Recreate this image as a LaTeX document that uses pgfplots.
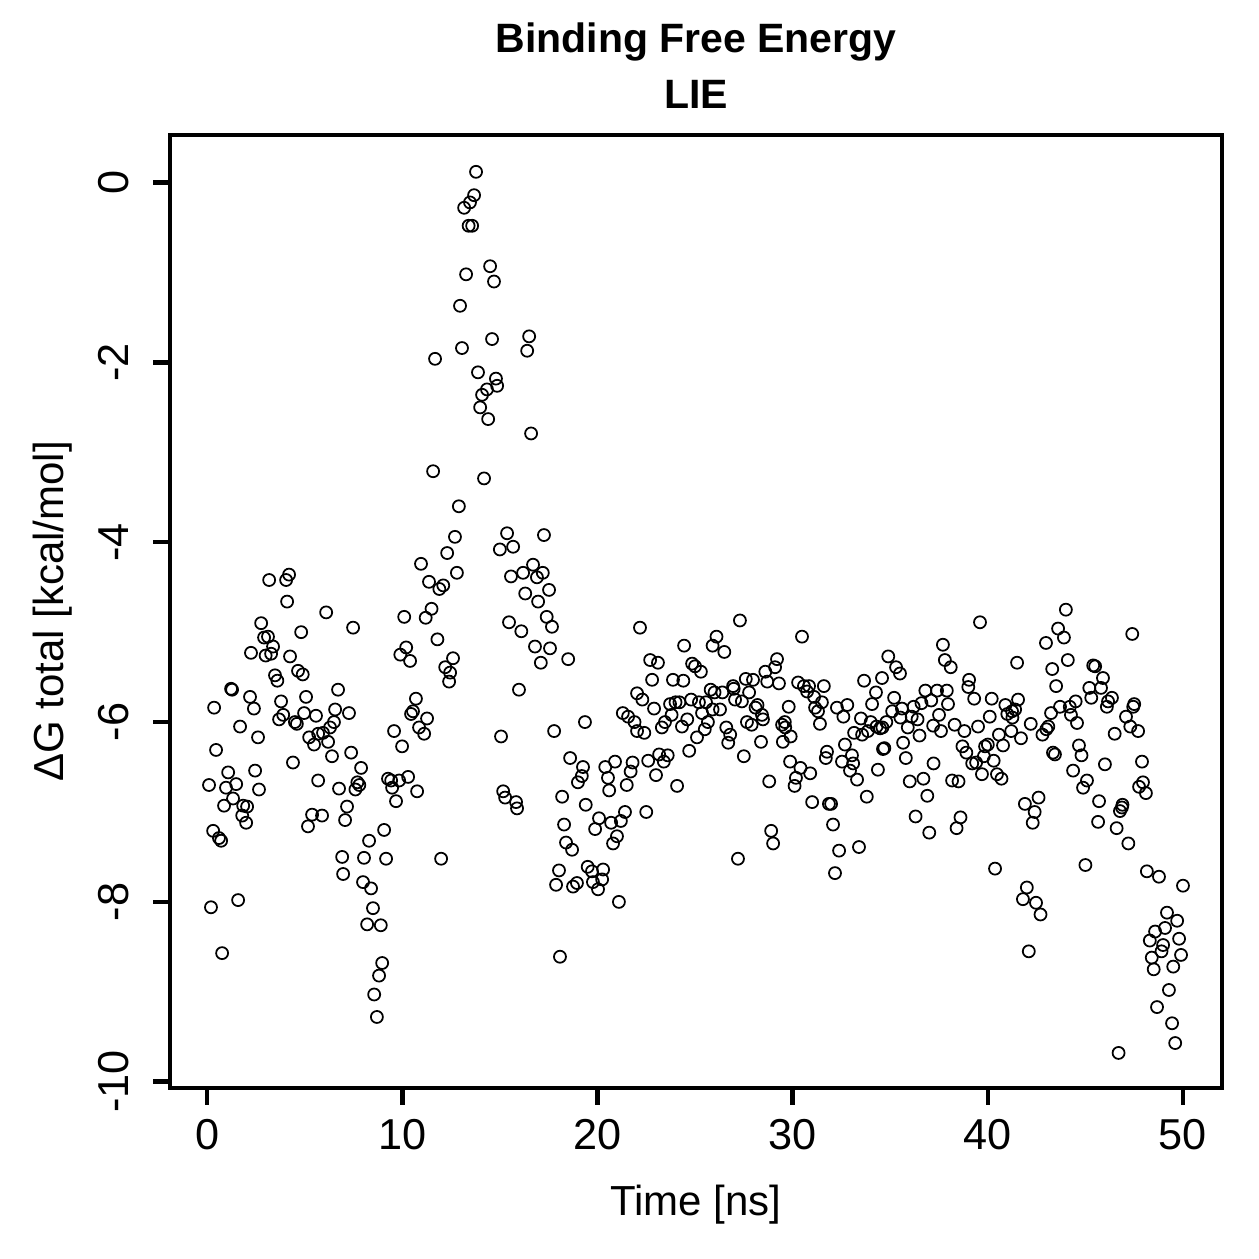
\documentclass[border=0pt]{standalone}
\usepackage{fontspec}
\setmainfont{Liberation Sans}
\usepackage{pgfplots}
\usepackage{pgfplotstable}
\pgfplotsset{compat=1.18}
\pgfplotstableread{
x y
0.10 -6.70
0.20 -8.06
0.31 -7.21
0.36 -5.84
0.46 -6.31
0.61 -7.29
0.72 -7.32
0.77 -8.57
0.87 -6.93
0.97 -6.73
1.08 -6.56
1.23 -5.63
1.28 -5.64
1.33 -6.85
1.49 -6.69
1.59 -7.98
1.69 -6.05
1.80 -7.04
1.85 -6.93
2.00 -7.12
2.05 -6.94
2.20 -5.72
2.25 -5.23
2.40 -5.85
2.46 -6.54
2.61 -6.17
2.66 -6.75
2.77 -4.90
2.92 -5.06
3.00 -5.26
3.12 -5.05
3.18 -4.42
3.28 -5.24
3.38 -5.16
3.48 -5.48
3.60 -5.54
3.69 -5.97
3.79 -5.77
3.90 -5.92
4.05 -4.42
4.10 -4.66
4.20 -4.36
4.25 -5.27
4.40 -6.45
4.50 -6.00
4.60 -6.02
4.66 -5.43
4.82 -5.00
4.90 -5.47
4.97 -5.90
5.07 -5.72
5.17 -7.16
5.23 -6.17
5.38 -7.03
5.48 -6.25
5.58 -5.93
5.69 -6.13
5.69 -6.65
5.89 -7.04
5.94 -6.12
6.10 -4.78
6.20 -6.22
6.30 -6.06
6.40 -6.38
6.50 -6.00
6.56 -5.86
6.71 -5.64
6.76 -6.74
6.92 -7.50
6.97 -7.69
7.07 -7.09
7.17 -6.94
7.27 -5.90
7.38 -6.34
7.48 -4.95
7.60 -6.75
7.70 -6.67
7.80 -6.70
7.89 -6.51
7.99 -7.78
8.04 -7.51
8.20 -8.25
8.30 -7.32
8.40 -7.85
8.50 -8.07
8.56 -9.03
8.70 -9.28
8.81 -8.82
8.90 -8.26
8.97 -8.68
9.07 -7.20
9.17 -7.52
9.27 -6.63
9.43 -6.65
9.48 -6.73
9.58 -6.10
9.68 -6.88
9.84 -6.65
9.90 -5.25
9.99 -6.27
10.10 -4.83
10.20 -5.17
10.30 -6.61
10.40 -5.32
10.45 -5.91
10.55 -5.88
10.70 -5.74
10.76 -6.77
10.86 -6.06
10.96 -4.24
11.12 -6.13
11.20 -4.84
11.27 -5.96
11.37 -4.44
11.50 -4.74
11.58 -3.21
11.68 -1.96
11.80 -5.08
11.90 -4.52
11.99 -7.52
12.10 -4.48
12.20 -5.39
12.30 -4.12
12.40 -5.55
12.45 -5.45
12.60 -5.29
12.70 -3.94
12.80 -4.34
12.90 -3.60
12.96 -1.37
13.06 -1.84
13.17 -0.28
13.27 -1.02
13.40 -0.48
13.47 -0.22
13.58 -0.48
13.68 -0.14
13.78 0.12
13.88 -2.11
13.99 -2.50
14.09 -2.36
14.19 -3.29
14.34 -2.30
14.40 -2.63
14.50 -0.93
14.60 -1.74
14.70 -1.10
14.80 -2.18
14.86 -2.26
15.00 -4.08
15.06 -6.16
15.17 -6.77
15.27 -6.84
15.37 -3.90
15.47 -4.89
15.57 -4.38
15.68 -4.05
15.83 -6.89
15.88 -6.96
15.98 -5.64
16.10 -4.99
16.19 -4.34
16.30 -4.57
16.40 -1.87
16.50 -1.71
16.60 -2.79
16.70 -4.25
16.80 -5.16
16.90 -4.39
16.96 -4.66
17.10 -5.34
17.20 -4.34
17.26 -3.92
17.40 -4.83
17.52 -4.53
17.57 -5.18
17.67 -4.94
17.78 -6.10
17.88 -7.81
18.03 -7.65
18.08 -8.61
18.19 -6.83
18.29 -7.14
18.39 -7.34
18.50 -5.30
18.60 -6.40
18.70 -7.42
18.75 -7.83
18.95 -7.79
19.00 -6.67
19.20 -6.60
19.26 -6.50
19.36 -6.00
19.40 -6.92
19.50 -7.61
19.72 -7.66
19.77 -7.78
19.88 -7.19
20.03 -7.86
20.08 -7.07
20.24 -7.75
20.29 -7.64
20.40 -6.50
20.54 -6.62
20.60 -6.76
20.70 -7.12
20.80 -7.35
20.90 -6.44
21.00 -7.27
21.10 -8.00
21.20 -7.10
21.30 -5.90
21.41 -7.00
21.50 -6.70
21.57 -5.94
21.70 -6.55
21.80 -6.45
21.90 -6.00
22.03 -5.68
22.03 -6.10
22.18 -4.95
22.30 -5.75
22.40 -6.12
22.50 -7.00
22.60 -6.43
22.70 -5.31
22.80 -5.53
22.90 -5.85
23.00 -6.59
23.10 -5.34
23.16 -6.36
23.30 -6.06
23.40 -6.44
23.46 -6.00
23.60 -6.37
23.72 -5.80
23.80 -5.92
23.87 -5.53
24.00 -5.78
24.08 -6.71
24.20 -5.78
24.33 -6.05
24.40 -5.54
24.44 -5.15
24.60 -5.97
24.70 -6.32
24.80 -5.75
24.85 -5.35
25.00 -5.38
25.10 -6.17
25.20 -5.78
25.30 -5.44
25.36 -5.90
25.50 -6.08
25.56 -5.78
25.66 -6.00
25.80 -5.64
25.90 -5.86
25.90 -5.15
26.00 -5.67
26.10 -5.05
26.28 -5.86
26.40 -5.67
26.50 -5.22
26.60 -6.06
26.70 -6.23
26.80 -6.14
26.95 -5.60
26.98 -5.63
27.05 -5.75
27.20 -7.52
27.30 -4.87
27.40 -5.77
27.50 -6.38
27.60 -5.52
27.66 -6.00
27.77 -5.67
27.90 -6.03
27.97 -5.53
28.10 -5.84
28.20 -5.81
28.38 -6.22
28.43 -5.92
28.48 -5.97
28.60 -5.44
28.70 -5.55
28.80 -6.66
28.90 -7.21
29.00 -7.35
29.10 -5.39
29.20 -5.30
29.30 -5.57
29.46 -6.03
29.50 -6.22
29.60 -6.00
29.62 -6.06
29.80 -5.83
29.87 -6.44
29.90 -6.16
30.10 -6.71
30.17 -6.62
30.28 -5.56
30.40 -6.51
30.48 -5.05
30.58 -5.60
30.74 -5.66
30.84 -5.60
30.90 -6.57
31.00 -6.89
31.10 -5.72
31.15 -5.84
31.30 -5.88
31.40 -6.02
31.50 -5.78
31.60 -5.60
31.70 -6.40
31.76 -6.33
31.86 -6.91
31.97 -6.91
32.07 -7.14
32.17 -7.68
32.27 -5.84
32.38 -7.43
32.53 -6.44
32.60 -5.94
32.68 -6.25
32.80 -5.81
32.94 -6.54
33.04 -6.37
33.10 -6.46
33.15 -6.12
33.30 -6.64
33.40 -7.39
33.50 -5.96
33.56 -6.14
33.66 -5.54
33.80 -6.83
33.86 -6.10
34.00 -6.00
34.07 -5.80
34.27 -5.67
34.30 -6.05
34.37 -6.53
34.48 -6.07
34.58 -5.51
34.60 -6.06
34.63 -6.30
34.70 -6.29
34.80 -6.00
34.90 -5.27
35.10 -5.88
35.20 -5.73
35.30 -5.39
35.50 -5.46
35.52 -5.95
35.60 -5.85
35.66 -6.23
35.80 -6.40
35.90 -6.06
36.00 -6.66
36.10 -5.94
36.20 -5.83
36.30 -7.05
36.40 -5.97
36.50 -6.15
36.60 -5.79
36.70 -6.63
36.80 -5.65
36.90 -6.82
37.00 -7.23
37.10 -5.76
37.20 -6.04
37.22 -6.46
37.40 -5.65
37.50 -5.92
37.60 -6.10
37.70 -5.14
37.80 -5.31
37.90 -5.65
37.96 -5.80
38.10 -5.39
38.17 -6.65
38.30 -6.03
38.40 -7.18
38.50 -6.66
38.60 -7.06
38.70 -6.27
38.80 -6.10
38.90 -6.34
39.00 -5.61
39.04 -5.53
39.20 -6.46
39.30 -5.74
39.40 -6.45
39.50 -6.05
39.60 -4.89
39.70 -6.58
39.80 -6.38
39.86 -6.27
40.00 -6.25
40.10 -5.94
40.20 -5.74
40.30 -6.43
40.37 -7.63
40.47 -6.58
40.57 -6.14
40.70 -6.63
40.78 -6.26
40.90 -5.81
41.00 -5.91
41.20 -6.10
41.24 -5.88
41.26 -5.95
41.40 -5.86
41.50 -5.34
41.55 -5.75
41.70 -6.18
41.80 -7.97
41.90 -6.91
42.00 -7.84
42.10 -8.55
42.20 -6.02
42.30 -7.12
42.40 -7.00
42.47 -8.01
42.60 -6.84
42.70 -8.14
42.80 -6.14
42.98 -5.12
43.00 -6.08
43.10 -6.05
43.24 -5.90
43.30 -5.41
43.34 -6.34
43.44 -6.36
43.50 -5.60
43.60 -4.96
43.70 -5.83
43.90 -5.06
44.00 -4.75
44.10 -5.31
44.20 -5.83
44.26 -5.92
44.37 -6.54
44.50 -5.77
44.57 -6.01
44.67 -6.26
44.80 -6.37
44.88 -6.73
45.00 -7.59
45.08 -6.65
45.20 -5.62
45.30 -5.73
45.40 -5.37
45.50 -5.38
45.65 -7.11
45.70 -6.88
45.80 -5.62
45.90 -5.51
46.00 -6.47
46.10 -5.83
46.16 -5.77
46.36 -5.73
46.50 -6.13
46.60 -7.18
46.70 -9.68
46.77 -6.99
46.87 -6.95
46.90 -6.92
47.08 -5.94
47.20 -7.35
47.30 -6.05
47.40 -5.02
47.45 -5.83
47.50 -5.80
47.70 -6.10
47.75 -6.72
47.90 -6.44
47.95 -6.67
48.10 -6.79
48.15 -7.66
48.30 -8.43
48.40 -8.62
48.50 -8.75
48.57 -8.33
48.67 -9.17
48.77 -7.72
48.90 -8.55
48.98 -8.48
49.08 -8.29
49.18 -8.12
49.28 -8.98
49.44 -9.35
49.50 -8.72
49.60 -9.57
49.70 -8.21
49.80 -8.41
49.90 -8.59
50.00 -7.82
}\lie
\begin{document}
\begin{tikzpicture}[x=1bp,y=1bp]
\path[use as bounding box] (0,0) rectangle (503.6,503.6);
\begin{axis}[
  at={(68bp,68.4bp)}, anchor=south west,
  scale only axis, width=420.8bp, height=381.2bp,
  xmin=-1.9, xmax=52, ymin=-10.07, ymax=0.53,
  axis line style={line width=1.8bp},
  xtick={0,10,20,30,40,50},
  ytick={-10,-8,-6,-4,-2,0},
  tick align=outside, xtick pos=bottom, ytick pos=left,
  major tick length=6.8bp,
  every tick/.style={line width=1.8bp, black},
  /pgf/number format/assume math mode=true,
  tick label style={font=\fontsize{17.3bp}{20bp}\selectfont},
  xticklabel style={anchor=base, yshift=-18bp},
  yticklabel style={rotate=90, anchor=base, yshift=10bp},
]
\addplot[only marks, mark=o, mark size=2.4bp, mark options={line width=0.7bp, black}] table[x=x, y=y] {\lie};
\end{axis}
\node[anchor=base, font=\bfseries\fontsize{16.4bp}{19bp}\selectfont] at (278.4,482.4) {Binding Free Energy};
\node[anchor=base, font=\bfseries\fontsize{16.4bp}{19bp}\selectfont] at (278.4,460) {LIE};
\node[anchor=base, font=\fontsize{16.8bp}{19bp}\selectfont] at (278.4,17.2) {Time [ns]};
\node[rotate=90, anchor=base, font=\fontsize{16.8bp}{19bp}\selectfont] at (25.2,259) {ΔG total [kcal/mol]};
\end{tikzpicture}
\end{document}
